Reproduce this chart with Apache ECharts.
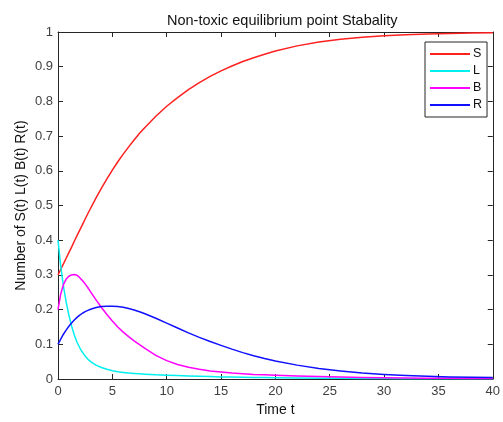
<!DOCTYPE html>
<html>
<head>
<meta charset="utf-8">
<script src="https://cdn.jsdelivr.net/npm/echarts@6/dist/echarts.min.js"></script>
<style>html,body{margin:0;padding:0;background:#fff;}#c{width:503px;height:422px;}</style>
</head>
<body>
<div id="c"></div>
<script>
var titleText = 'Non-toxic equilibrium point Stabality';
var xName = 'Time t';
var yName = 'Number of S(t) L(t) B(t) R(t)';
var seriesNames = ['S', 'L', 'B', 'R'];
var seriesColors = ['#ff2020', '#00f0f0', '#ff00ff', '#1010ff'];
var xTicks = [0, 5, 10, 15, 20, 25, 30, 35, 40];
var yTicks = [0, 0.1, 0.2, 0.3, 0.4, 0.5, 0.6, 0.7, 0.8, 0.9, 1];

var tValues = [0, 0.25, 0.5, 0.75, 1, 1.25, 1.5, 1.75, 2, 2.25, 2.5, 2.75, 3,
  3.5, 4, 4.5, 5, 5.5, 6, 6.5, 7, 7.5, 8,
  9, 10, 11, 12, 13, 14, 15, 16, 17, 18, 19, 20,
  22, 24, 26, 28, 30, 32, 34, 36, 38, 40];
var sValues = [0.300, 0.316, 0.332, 0.348, 0.364, 0.380, 0.397, 0.413, 0.429, 0.445, 0.461, 0.477, 0.492,
  0.522, 0.550, 0.577, 0.602, 0.626, 0.648, 0.669, 0.689, 0.708, 0.725,
  0.757, 0.786, 0.811, 0.834, 0.854, 0.872, 0.888, 0.902, 0.915, 0.926, 0.936, 0.945,
  0.960, 0.971, 0.979, 0.985, 0.989, 0.992, 0.994, 0.996, 0.997, 0.998];
var lValues = [0.400, 0.325, 0.268, 0.222, 0.184, 0.153, 0.127, 0.106, 0.090, 0.077, 0.066, 0.057, 0.050,
  0.040, 0.033, 0.028, 0.024, 0.021, 0.019, 0.017, 0.016, 0.015, 0.014,
  0.012, 0.011, 0.010, 0.009, 0.008, 0.007, 0.006, 0.0055, 0.005, 0.0045, 0.004, 0.0035,
  0.003, 0.0025, 0.002, 0.0015, 0.0012, 0.001, 0.0008, 0.0006, 0.0005, 0.0004];
var bValues = [0.200, 0.245, 0.272, 0.288, 0.296, 0.300, 0.301, 0.299, 0.292, 0.284, 0.274, 0.263, 0.251,
  0.228, 0.206, 0.186, 0.167, 0.150, 0.135, 0.122, 0.110, 0.099, 0.088,
  0.068, 0.053, 0.042, 0.034, 0.028, 0.023, 0.020, 0.017, 0.015, 0.013, 0.012, 0.011,
  0.009, 0.007, 0.0055, 0.0045, 0.0035, 0.003, 0.0025, 0.002, 0.0015, 0.0012];
var rValues = [0.100, 0.115, 0.129, 0.141, 0.152, 0.1615, 0.170, 0.1775, 0.184, 0.1895, 0.194, 0.1978, 0.201,
  0.2058, 0.2088, 0.2100, 0.2100, 0.209, 0.207, 0.203, 0.199, 0.194, 0.188,
  0.175, 0.161, 0.147, 0.133, 0.120, 0.108, 0.097, 0.086, 0.076, 0.067, 0.059, 0.052,
  0.040, 0.030, 0.023, 0.017, 0.013, 0.010, 0.008, 0.006, 0.005, 0.004];

var allValues = [sValues, lValues, bValues, rValues];

function pairs(vals) {
  return tValues.map(function (t, i) { return [t, vals[i]]; });
}

var font = 'Liberation Sans, Arial, Helvetica, sans-serif';
var axisColor = '#262626';
var labelColor = '#404040';

var chart = echarts.init(document.getElementById('c'));
chart.setOption({
  animation: false,
  backgroundColor: '#ffffff',
  title: {
    text: titleText,
    left: 162,
    top: 8,
    textStyle: { fontFamily: font, fontSize: 14.5, fontWeight: 'normal', color: '#111' }
  },
  legend: {
    data: seriesNames,
    orient: 'vertical',
    left: 425,
    top: 42,
    padding: [5, 5, 5, 5],
    itemWidth: 40,
    itemHeight: 2,
    itemGap: 3,
    icon: 'rect',
    backgroundColor: '#ffffff',
    borderColor: axisColor,
    borderWidth: 1,
    borderRadius: 0,
    textStyle: { fontFamily: font, fontSize: 12.5, color: '#111', padding: [0, 0, 0, -2], lineHeight: 14 }
  },
  grid: { left: 58, right: 6, top: 32, bottom: 43, containLabel: false },
  xAxis: [{
    type: 'value', min: xTicks[0], max: xTicks[xTicks.length - 1], interval: xTicks[1] - xTicks[0],
    name: xName, nameLocation: 'middle', nameGap: 24,
    nameTextStyle: { fontFamily: font, fontSize: 14, color: '#111' },
    axisLine: { show: true, onZero: false, lineStyle: { color: axisColor, width: 1 } },
    axisTick: { show: true, inside: true, length: 5, lineStyle: { color: axisColor } },
    axisLabel: { fontFamily: font, fontSize: 13, color: labelColor, margin: 6 },
    splitLine: { show: false }
  }, {
    type: 'value', position: 'top', min: xTicks[0], max: xTicks[xTicks.length - 1], interval: xTicks[1] - xTicks[0],
    axisLine: { show: true, onZero: false, lineStyle: { color: axisColor, width: 1 } },
    axisTick: { show: true, inside: true, length: 5, lineStyle: { color: axisColor } },
    axisLabel: { show: false },
    splitLine: { show: false }
  }],
  yAxis: [{
    type: 'value', min: yTicks[0], max: yTicks[yTicks.length - 1], interval: 0.1,
    name: yName, nameLocation: 'middle', nameGap: 30, nameMoveOverlap: false,
    nameTextStyle: { fontFamily: font, fontSize: 14, color: '#111' },
    axisLine: { show: true, onZero: false, lineStyle: { color: axisColor, width: 1 } },
    axisTick: { show: true, inside: true, length: 5, lineStyle: { color: axisColor } },
    axisLabel: { fontFamily: font, fontSize: 13, color: labelColor, margin: 5,
      formatter: function (v) { return String(+v.toFixed(1)); } },
    splitLine: { show: false }
  }, {
    type: 'value', position: 'right', min: yTicks[0], max: yTicks[yTicks.length - 1], interval: 0.1,
    axisLine: { show: true, onZero: false, lineStyle: { color: axisColor, width: 1 } },
    axisTick: { show: true, inside: true, length: 5, lineStyle: { color: axisColor } },
    axisLabel: { show: false },
    splitLine: { show: false }
  }],
  series: seriesNames.map(function (n, i) {
    return {
      name: n,
      type: 'line',
      xAxisIndex: 0,
      yAxisIndex: 0,
      smooth: false,
      showSymbol: false,
      symbol: 'none',
      data: pairs(allValues[i]),
      lineStyle: { color: seriesColors[i], width: 1.5, join: 'round' },
      itemStyle: { color: seriesColors[i] }
    };
  })
});
</script>
</body>
</html>
